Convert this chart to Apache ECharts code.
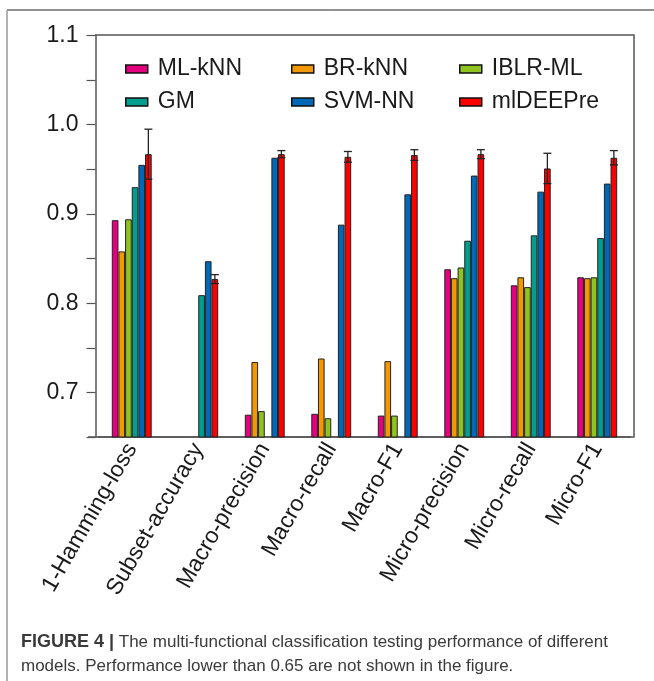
<!DOCTYPE html>
<html>
<head>
<meta charset="utf-8">
<title>mlDEEPre multi-functional classification</title>
<script src="https://cdn.jsdelivr.net/npm/echarts@6/dist/echarts.min.js"></script>
<style>
  html, body {
    margin: 0;
    padding: 0;
    background: #fff;
  }
  #mychart {
    width: 654px;
    height: 681px;
  }
</style>
</head>
<body>
<div id="mychart"></div>
<script>
// values below 0.65 are not drawn in the figure -> '-'
var categories = ['1-Hamming-loss', 'Subset-accuracy', 'Macro-precision', 'Macro-recall', 'Macro-F1', 'Micro-precision', 'Micro-recall', 'Micro-F1']
var mlKnn = [0.893, '-', 0.675, 0.676, 0.674, 0.838, 0.820, 0.829]
var brKnn = [0.858, '-', 0.734, 0.738, 0.735, 0.828, 0.829, 0.828]
var iblrMl = [0.894, '-', 0.679, 0.671, 0.674, 0.840, 0.818, 0.829]
var gm = [0.930, 0.809, '-', '-', '-', 0.870, 0.876, 0.873]
var svmNn = [0.955, 0.847, 0.963, 0.888, 0.922, 0.943, 0.925, 0.934]
var mlDeepre = [0.967, 0.827, 0.967, 0.964, 0.966, 0.967, 0.951, 0.963]
var mlDeepreErr = [0.028, 0.005, 0.004, 0.006, 0.006, 0.005, 0.017, 0.008]
var yTickLabels = ['0.7', '0.8', '0.9', '1.0', '1.1']

var FONT = '"Liberation Sans", Arial, Helvetica, sans-serif'
var colorList = ['#e4007f', '#f39800', '#8fc31f', '#009e8f', '#0068b7', '#ff0000']
var seriesNames = ['ML-kNN', 'BR-kNN', 'IBLR-ML', 'GM', 'SVM-NN', 'mlDEEPre']
var seriesData = [mlKnn, brKnn, iblrMl, gm, svmNn, mlDeepre]
var CAT_GAP = 0.4

var chart = echarts.init(document.getElementById('mychart'))

function makeLegend (left, names) {
  return {
    orient: 'vertical',
    left: left,
    top: 57,
    padding: 0,
    itemWidth: 22,
    itemHeight: 8,
    itemGap: 9,
    icon: 'rect',
    selectedMode: false,
    data: names,
    itemStyle: {
      borderColor: '#111',
      borderWidth: 1.5
    },
    textStyle: {
      fontFamily: FONT,
      fontSize: 23,
      color: '#1a1a1a',
      lineHeight: 24,
      padding: [0, 0, 0, 5]
    }
  }
}

var barSeries = seriesNames.map(function (name, index) {
  return {
    name: name,
    type: 'bar',
    barGap: 0,
    barCategoryGap: (CAT_GAP * 100) + '%',
    itemStyle: {
      color: colorList[index],
      borderColor: '#222',
      borderWidth: 1
    },
    data: seriesData[index]
  }
})

// error bars for mlDEEPre (last bar of each group)
var errData = mlDeepre.map(function (v, i) {
  return [i, v - mlDeepreErr[i], v + mlDeepreErr[i]]
})

var errSeries = {
  type: 'custom',
  name: 'mlDEEPre-err',
  silent: true,
  z: 5,
  renderItem: function (params, api) {
    var band = api.size([1, 0])[0]
    var barW = band * (1 - CAT_GAP) / seriesNames.length
    var low = api.coord([api.value(0), api.value(1)])
    var high = api.coord([api.value(0), api.value(2)])
    var x = low[0] + barW * 2.5
    var half = 4
    var style = { stroke: '#222', lineWidth: 1.3 }
    return {
      type: 'group',
      children: [
        { type: 'line', shape: { x1: x, y1: low[1], x2: x, y2: high[1] }, style: style },
        { type: 'line', shape: { x1: x - half, y1: low[1], x2: x + half, y2: low[1] }, style: style },
        { type: 'line', shape: { x1: x - half, y1: high[1], x2: x + half, y2: high[1] }, style: style }
      ]
    }
  },
  data: errData
}

var option = {
  animation: false,
  backgroundColor: '#fff',
  legend: [
    makeLegend(125, ['ML-kNN', 'GM']),
    makeLegend(291, ['BR-kNN', 'SVM-NN']),
    makeLegend(459, ['IBLR-ML', 'mlDEEPre'])
  ],
  grid: {
    left: 98.5,
    right: 23.5,
    top: 35.5,
    bottom: 244
  },
  xAxis: {
    type: 'category',
    data: categories,
    axisLine: {
      lineStyle: { color: '#555', width: 1.5 }
    },
    axisTick: { show: false },
    axisLabel: {
      interval: 0,
      rotate: 60,
      margin: 8,
      fontFamily: FONT,
      fontSize: 23,
      color: '#1a1a1a'
    }
  },
  yAxis: {
    type: 'value',
    min: 0.65,
    max: 1.1,
    interval: 0.05,
    offset: 3,
    splitLine: { show: false },
    axisLine: {
      show: true,
      lineStyle: { color: '#555', width: 1.5 }
    },
    axisTick: {
      show: true,
      length: 9,
      lineStyle: { color: '#555', width: 1.2 }
    },
    axisLabel: {
      margin: 17,
      fontFamily: FONT,
      fontSize: 23,
      color: '#1a1a1a',
      formatter: function (v) {
        var s = v.toFixed(2)
        var t = v.toFixed(1)
        return (s === t + '0' && yTickLabels.indexOf(t) >= 0) ? t : ''
      }
    }
  },
  graphic: [
    // plot frame (top, right, bottom)
    {
      type: 'polyline',
      silent: true,
      shape: { points: [[95, 35], [634, 35], [634, 437], [88, 437]] },
      style: { stroke: '#555', lineWidth: 1.5, fill: null }
    },
    // page border
    {
      type: 'line',
      silent: true,
      shape: { x1: 7, y1: 10, x2: 654, y2: 10 },
      style: { stroke: '#222', lineWidth: 1 }
    },
    {
      type: 'line',
      silent: true,
      shape: { x1: 7, y1: 10, x2: 7, y2: 681 },
      style: { stroke: '#999', lineWidth: 1.5 }
    },
    {
      type: 'text',
      left: 21,
      top: 630,
      style: {
        text: '{b|FIGURE 4 |} The multi-functional classification testing performance of different\nmodels. Performance lower than 0.65 are not shown in the figure.',
        fontFamily: FONT,
        fontSize: 17,
        lineHeight: 24,
        fill: '#3a3a3a',
        rich: {
          b: { fontWeight: 'bold', fontFamily: FONT, fontSize: 18, fill: '#3a3a3a' }
        }
      }
    }
  ],
  series: barSeries.concat([errSeries])
}

chart.setOption(option)
</script>
</body>
</html>
